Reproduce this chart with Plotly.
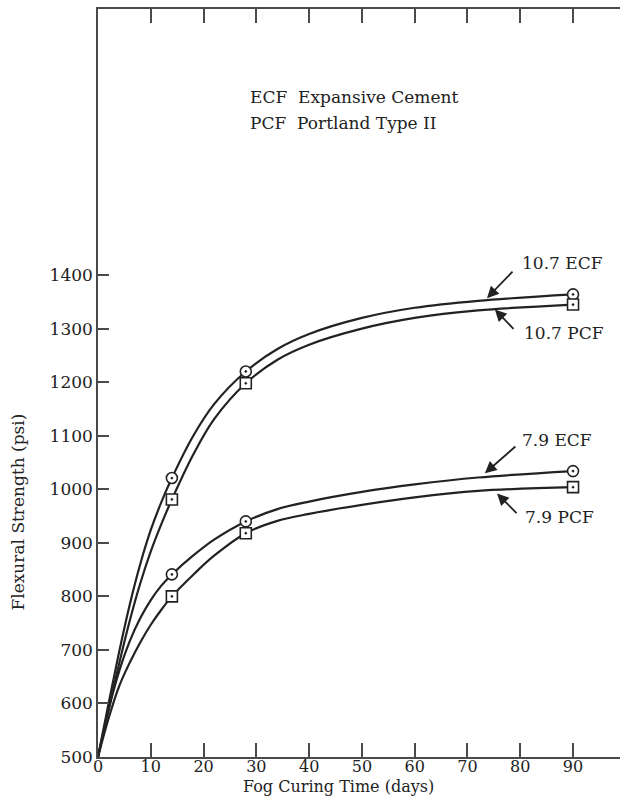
import plotly.graph_objects as go

# Fog curing time (days) sampled along each strength-development curve
days_curve = [0, 2, 4, 6, 8, 10, 12, 14, 18, 22, 28, 34, 40, 50, 60, 72, 90]
ecf_107_curve = [500, 600, 696, 784, 860, 924, 976, 1021, 1099, 1159, 1220, 1262, 1290, 1320, 1339, 1352, 1364]
pcf_107_curve = [500, 588, 674, 754, 824, 884, 935, 981, 1064, 1131, 1198, 1242, 1270, 1300, 1320, 1334, 1345]
ecf_79_curve = [500, 588, 660, 716, 759, 793, 820, 841, 876, 906, 940, 963, 977, 995, 1009, 1022, 1034]
pcf_79_curve = [500, 572, 632, 676, 714, 747, 775, 800, 840, 876, 918, 941, 954, 971, 985, 997, 1004]

# Measured test ages and flexural strengths (psi)
test_days = [14, 28, 90]
ecf_107_pts = [1021, 1220, 1364]
pcf_107_pts = [981, 1198, 1345]
ecf_79_pts = [841, 940, 1034]
pcf_79_pts = [800, 918, 1004]

x_ticks = [0, 10, 20, 30, 40, 50, 60, 70, 80, 90]
y_ticks = [500, 600, 700, 800, 900, 1000, 1100, 1200, 1300, 1400]
right_ticks = [600, 700, 800, 900, 1000, 1100, 1200, 1300, 1400]

INK = "#222222"
AXIS = "#4a4a4a"
FONT = "DejaVu Serif"

fig = go.Figure()

for curve in (ecf_107_curve, pcf_107_curve, ecf_79_curve, pcf_79_curve):
    fig.add_trace(go.Scatter(
        x=days_curve, y=curve, mode="lines",
        line=dict(color=INK, width=2.2, shape="spline", smoothing=1.0),
        hoverinfo="skip", showlegend=False))

for pts, sym in ((ecf_107_pts, "circle-dot"), (pcf_107_pts, "square-dot"),
                 (ecf_79_pts, "circle-dot"), (pcf_79_pts, "square-dot")):
    fig.add_trace(go.Scatter(
        x=test_days, y=pts, mode="markers",
        marker=dict(symbol=sym, size=11, color="white",
                    line=dict(color=INK, width=1.6)),
        showlegend=False))

text_font = dict(family=FONT, size=17, color=INK)

annotations = [
    # key
    dict(x=28.4, y=1732, xref="x", yref="y", text="ECF\u00a0\u00a0Expansive Cement",
         showarrow=False, xanchor="left", yanchor="middle", font=text_font),
    dict(x=28.4, y=1684, xref="x", yref="y", text="PCF\u00a0\u00a0Portland Type II",
         showarrow=False, xanchor="left", yanchor="middle", font=text_font),
    # curve labels
    dict(x=80.0, y=1422, xref="x", yref="y", text="10.7 ECF", showarrow=False,
         xanchor="left", yanchor="middle", font=text_font),
    dict(x=80.3, y=1292, xref="x", yref="y", text="10.7 PCF", showarrow=False,
         xanchor="left", yanchor="middle", font=text_font),
    dict(x=80.0, y=1092, xref="x", yref="y", text="7.9 ECF", showarrow=False,
         xanchor="left", yanchor="middle", font=text_font),
    dict(x=80.5, y=948, xref="x", yref="y", text="7.9 PCF", showarrow=False,
         xanchor="left", yanchor="middle", font=text_font),
    # axis titles
    dict(x=0.46, y=-0.04, xref="paper", yref="paper", text="Fog Curing Time (days)",
         showarrow=False, xanchor="center", yanchor="middle",
         font=dict(family=FONT, size=16, color=INK)),
    dict(x=-0.153, y=0.327, xref="paper", yref="paper", text="Flexural Strength (psi)",
         showarrow=False, xanchor="center", yanchor="middle", textangle=-90,
         font=dict(family=FONT, size=17, color=INK)),
]

# pointer arrows: tip on the curve, tail toward the label
arrows = [
    (73.7, 1357, 27, -28),
    (75.2, 1336, 20, 21),
    (73.3, 1030, 32, -28),
    (75.6, 992, 21, 21),
]
for ax_x, ax_y, dx, dy in arrows:
    annotations.append(dict(
        x=ax_x, y=ax_y, xref="x", yref="y", text="", showarrow=True,
        ax=dx, ay=dy, arrowhead=2, arrowsize=1.3, arrowwidth=1.8,
        arrowcolor=INK, standoff=0))

tick_font = dict(family=FONT, size=17, color=INK)

fig.update_layout(
    width=620, height=801,
    margin=dict(l=98, r=0, t=9, b=44),
    paper_bgcolor="white", plot_bgcolor="white",
    showlegend=False,
    annotations=annotations,
    xaxis=dict(
        range=[0, 98.9], tickvals=x_ticks, ticktext=[str(v) for v in x_ticks],
        showline=True, linecolor=AXIS, linewidth=1.5, mirror="ticks",
        ticks="inside", ticklen=14, tickwidth=1.5, tickcolor=AXIS,
        showgrid=False, zeroline=False,
        tickfont=dict(family=FONT, size=16, color=INK), ticklabelstandoff=-6),
    yaxis=dict(
        range=[500, 1897], tickvals=y_ticks, ticktext=[str(v) for v in y_ticks],
        showline=True, linecolor=AXIS, linewidth=1.5,
        ticks="inside", ticklen=11, tickwidth=1.5, tickcolor=AXIS,
        showgrid=False, zeroline=False, tickfont=tick_font),
    yaxis2=dict(
        range=[500, 1897], overlaying="y", side="right", tickvals=right_ticks,
        showline=False, ticks="inside", ticklen=10, tickwidth=1.5, tickcolor=AXIS,
        showticklabels=False, showgrid=False, zeroline=False),
)

fig.write_html("out.html")
